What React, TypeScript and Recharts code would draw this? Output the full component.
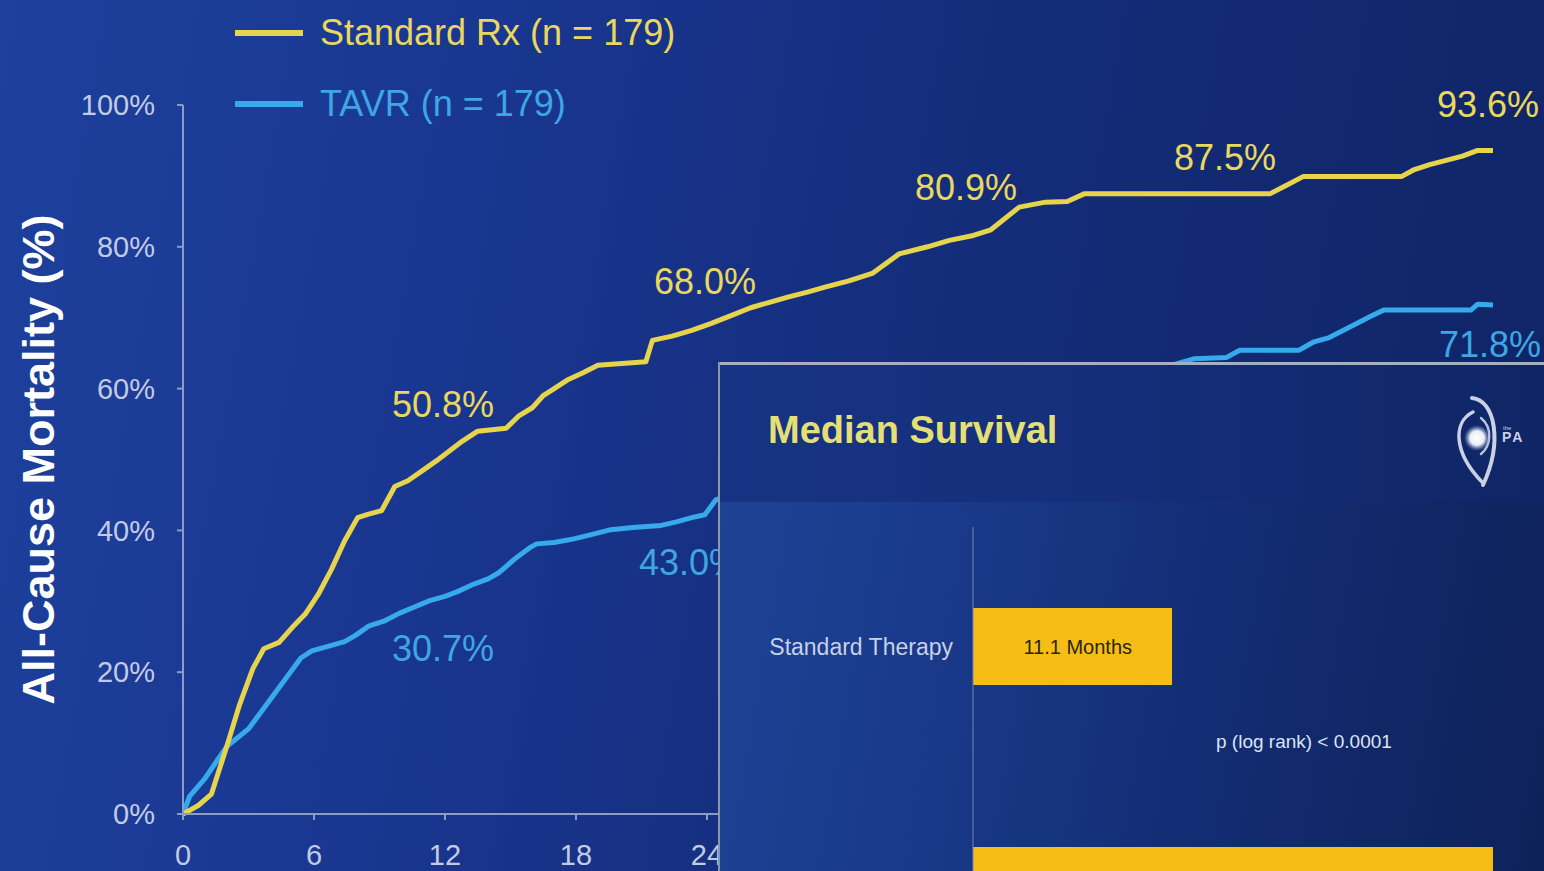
import React from 'react';
import {
  LineChart, Line, XAxis, YAxis, Legend, ReferenceDot,
  BarChart, Bar, LabelList,
} from 'recharts';

// ---------- data (curve vertices) ----------
const standardMonths = [0, 0.7, 1.3, 2.0, 2.6, 3.2, 3.7, 4.4, 5.0, 5.6, 6.2, 6.8, 7.4, 8.0, 8.5, 9.1, 9.7, 10.3, 11.0, 11.6, 12.2, 12.8, 13.5, 14.8, 15.4, 16.0, 16.5, 17.0, 17.6, 18.3, 19.0, 21.2, 21.5, 22.4, 23.3, 24.2, 25.1, 26.0, 26.9, 27.7, 28.6, 29.4, 30.5, 31.6, 32.8, 34.1, 35.1, 36.2, 37.0, 38.3, 39.5, 40.5, 41.3, 49.8, 50.5, 51.3, 55.8, 56.4, 57.1, 58.6, 59.3, 60];
const standardPct = [0, 1.2, 2.8, 9.5, 15.5, 20.5, 23.3, 24.2, 26.3, 28.2, 31, 34.5, 38.5, 41.8, 42.3, 42.8, 46.2, 47, 48.5, 49.8, 51.2, 52.6, 54, 54.4, 56.2, 57.3, 59, 60, 61.2, 62.2, 63.3, 63.8, 66.8, 67.4, 68.2, 69.2, 70.3, 71.4, 72.2, 72.9, 73.6, 74.3, 75.2, 76.3, 79, 80, 80.9, 81.6, 82.4, 85.6, 86.3, 86.4, 87.5, 87.5, 88.6, 89.9, 89.9, 90.9, 91.6, 92.8, 93.6, 93.6];

const tavrMonths = [0, 0.3, 1.0, 2.0, 2.4, 3.0, 3.6, 4.2, 4.8, 5.4, 5.9, 6.6, 7.4, 7.9, 8.5, 9.2, 9.9, 10.6, 11.3, 12.0, 12.6, 13.3, 14.0, 14.5, 15.2, 15.9, 16.2, 17.0, 17.9, 18.7, 19.6, 20.6, 21.9, 22.6, 23.3, 23.9, 24.4, 25.7, 27.1, 28.2, 29.8, 31.3, 32.9, 34.6, 36.0, 37.4, 39.3, 41.1, 42.8, 44.6, 46.3, 47.8, 48.4, 51.1, 51.8, 52.5, 53.2, 54.4, 55.0, 59.0, 59.3, 60];
const tavrPct = [0, 2.5, 5, 9.5, 10.5, 12, 14.5, 17, 19.5, 22, 23, 23.6, 24.3, 25.2, 26.5, 27.2, 28.3, 29.2, 30.1, 30.7, 31.4, 32.4, 33.2, 34.1, 36, 37.6, 38.1, 38.3, 38.8, 39.4, 40.1, 40.4, 40.7, 41.2, 41.8, 42.2, 44.3, 45.6, 47.2, 48.1, 49.7, 50.6, 52.2, 53.1, 54.1, 55.8, 57.4, 59.6, 61.2, 62.7, 64.2, 64.4, 65.4, 65.4, 66.6, 67.2, 68.3, 70.2, 71.1, 71.1, 71.9, 71.8];

const xTicks = [0, 6, 12, 18, 24, 30, 36, 42, 48, 54, 60];
const yTicks = [0, 20, 40, 60, 80, 100];

const standardMilestoneMonths = [12, 24, 36, 48, 60];
const standardMilestoneValues = [50.8, 68.0, 80.9, 87.5, 93.6];
const tavrMilestoneMonths = [12, 24, 60];
const tavrMilestoneValues = [30.7, 43.0, 71.8];

const medianCategories = ['Standard Therapy', 'TAVR'];
const medianMonths = [11.1, 29.0];

const legendNames = ['Standard Rx (n = 179)', 'TAVR (n = 179)'];

// ---------- styles / layout ----------
const FONT = '"Liberation Sans", Arial, Helvetica, sans-serif';
const YELLOW = '#e6d44c';
const YELLOW_TXT = '#ead75e';
const BLUE = '#36aaec';
const BLUE_TXT = '#3ea6e2';
const AXIS = '#8d9bc8';
const TICK_TXT = '#c3cbe4';

const standardLabelOffsets = [[-2, -49], [-2, -50], [-3, -53], [-6, -36], [-5, -46]];
const tavrLabelOffsets = [[-2, 52], [-17, 53], [-3, 40]];

const standardData = standardMonths.map((m, i) => ({ month: m, value: standardPct[i] }));
const tavrData = tavrMonths.map((m, i) => ({ month: m, value: tavrPct[i] }));
const medianData = medianCategories.map((c, i) => ({ name: c, months: medianMonths[i] }));

const makeLabel = (text: string, color: string, dx: number, dy: number) => (props: any) => {
  const vb = props.viewBox || {};
  const cx = (vb.x ?? 0) + (vb.width ?? 0) / 2;
  const cy = (vb.y ?? 0) + (vb.height ?? 0) / 2;
  return (
    <text x={cx + dx} y={cy + dy} textAnchor="middle" dominantBaseline="central"
      fill={color} fontSize={36} fontFamily={FONT}>
      {text}
    </text>
  );
};

const renderLegend = () => (
  <div style={{ fontFamily: FONT, fontSize: 36 }}>
    {legendNames.map((name, i) => (
      <div key={name} style={{ display: 'flex', alignItems: 'center', height: 71 }}>
        <div style={{ width: 68, height: 6, background: i === 0 ? YELLOW : BLUE, marginRight: 17 }} />
        <span style={{ color: i === 0 ? YELLOW_TXT : BLUE_TXT, whiteSpace: 'nowrap' }}>{name}</span>
      </div>
    ))}
  </div>
);

const Logo = () => (
  <svg width={99} height={100} style={{ position: 'absolute', left: 727, top: 28 }}>
    <defs>
      <radialGradient id="dotg">
        <stop offset="0%" stopColor="#ffffff" />
        <stop offset="55%" stopColor="#e8eef8" />
        <stop offset="100%" stopColor="#8fa0c8" stopOpacity="0" />
      </radialGradient>
    </defs>
    <path d="M 27 8 C 50 10, 58 52, 38 95" stroke="#c9d1e6" strokeWidth={4} fill="none" strokeLinecap="round" />
    <path d="M 28 22 C 8 32, 8 62, 37 92" stroke="#c9d1e6" strokeWidth={3.5} fill="none" strokeLinecap="round" />
    <path d="M 36 28 C 48 38, 46 56, 36 64" stroke="#b8c2dc" strokeWidth={2.5} fill="none" strokeLinecap="round" />
    <circle cx={32} cy={48} r={13} fill="url(#dotg)" />
    <text x={58} y={40} fontSize={6} fill="#c9d1e6" fontFamily={FONT}>the</text>
    <text x={57} y={52} fontSize={14} fontWeight="bold" letterSpacing={2} fill="#c9d1e6" fontFamily={FONT}>PA</text>
  </svg>
);

export default function App() {
  return (
    <div style={{
      position: 'fixed', left: 0, top: 0, width: 1544, height: 871, overflow: 'hidden',
      background: 'linear-gradient(100deg, #1d419d 0%, #193690 30%, #142d7a 60%, #0f2464 100%)',
      fontFamily: FONT,
    }}>
      <LineChart width={1544} height={871}
        margin={{ top: 105, right: 51, bottom: 17, left: 83 }}
        style={{ position: 'absolute', left: 0, top: 0 }}>
        <XAxis type="number" dataKey="month" domain={[0, 60]} ticks={xTicks}
          allowDataOverflow height={40}
          stroke={AXIS} strokeWidth={2} tickSize={6} tickMargin={24}
          tick={{ fill: TICK_TXT, fontSize: 29, fontFamily: FONT }} />
        <YAxis type="number" domain={[0, 100]} ticks={yTicks} width={100}
          stroke={AXIS} strokeWidth={2} tickSize={6} tickMargin={22}
          tickFormatter={(v: number) => `${v}%`}
          tick={{ fill: TICK_TXT, fontSize: 29, fontFamily: FONT }}
          label={{
            value: 'All-Cause Mortality (%)', angle: -90, position: 'insideLeft', offset: -45,
            textAnchor: 'middle',
            style: { fill: '#ffffff', fontSize: 45, fontWeight: 'bold', fontFamily: FONT },
          }} />
        <Legend content={renderLegend} verticalAlign="middle" align="center"
          wrapperStyle={{ position: 'absolute', left: 235, top: -3, width: 'auto', height: 'auto' }} />
        <Line data={tavrData} dataKey="value" name={legendNames[1]} type="linear"
          stroke={BLUE} strokeWidth={5} strokeLinejoin="round" dot={false} activeDot={false} isAnimationActive={false} />
        <Line data={standardData} dataKey="value" name={legendNames[0]} type="linear"
          stroke={YELLOW} strokeWidth={5} strokeLinejoin="round" dot={false} activeDot={false} isAnimationActive={false} />
        {standardMilestoneMonths.map((m, i) => (
          <ReferenceDot key={`s${m}`} x={m} y={standardMilestoneValues[i]} r={1}
            fill="none" stroke="none"
            label={makeLabel(`${standardMilestoneValues[i].toFixed(1)}%`, YELLOW_TXT,
              standardLabelOffsets[i][0], standardLabelOffsets[i][1])} />
        ))}
        {tavrMilestoneMonths.map((m, i) => (
          <ReferenceDot key={`t${m}`} x={m} y={tavrMilestoneValues[i]} r={1}
            fill="none" stroke="none"
            label={makeLabel(`${tavrMilestoneValues[i].toFixed(1)}%`, BLUE_TXT,
              tavrLabelOffsets[i][0], tavrLabelOffsets[i][1])} />
        ))}
      </LineChart>

      {/* inset panel */}
      <div style={{
        position: 'absolute', left: 718, top: 362, width: 826, height: 509, overflow: 'hidden',
        background: 'linear-gradient(100deg, #1e4496 0%, #1a3b8c 25%, #132d74 60%, #0e2259 100%)',
      }}>
        <div style={{
          position: 'absolute', left: 0, top: 0, width: 826, height: 140,
          background: 'linear-gradient(90deg, #173484 0%, #142e79 50%, #0f2565 100%)',
        }} />
        <div style={{
          position: 'absolute', left: 50, top: 46, fontSize: 38, fontWeight: 'bold',
          color: '#e4df76', lineHeight: '44px', whiteSpace: 'nowrap',
        }}>Median Survival</div>
        <Logo />
        <div style={{
          position: 'absolute', left: 498, top: 369, fontSize: 19, color: '#dde3f2',
          whiteSpace: 'nowrap', lineHeight: '22px',
        }}>p (log rank) &lt; 0.0001</div>
        <BarChart width={910} height={663} layout="vertical" data={medianData}
          margin={{ top: 165, right: 9.5, bottom: 20, left: 35 }}
          style={{ position: 'absolute', left: 0, top: 0 }}>
          <XAxis type="number" domain={[0, 36]} hide />
          <YAxis type="category" dataKey="name" width={220} tickLine={false}
            axisLine={{ stroke: '#7283b5', strokeWidth: 1 }} tickSize={0} tickMargin={20}
            tick={{ fill: '#c8d0e8', fontSize: 23, fontFamily: FONT }} />
          <Bar dataKey="months" fill="#f7bd16" barSize={77} isAnimationActive={false}>
            <LabelList dataKey="months" position="insideRight" offset={40}
              formatter={(v: any) => `${Number(v).toFixed(1)} Months`}
              style={{ fill: '#2b2606', fontSize: 20, fontFamily: FONT }} />
          </Bar>
        </BarChart>
        <div style={{ position: 'absolute', left: 0, top: 0, width: 826, height: 3, background: '#a6aec0' }} />
        <div style={{ position: 'absolute', left: 0, top: 0, width: 2, height: 509, background: '#8b95ae' }} />
      </div>
    </div>
  );
}
